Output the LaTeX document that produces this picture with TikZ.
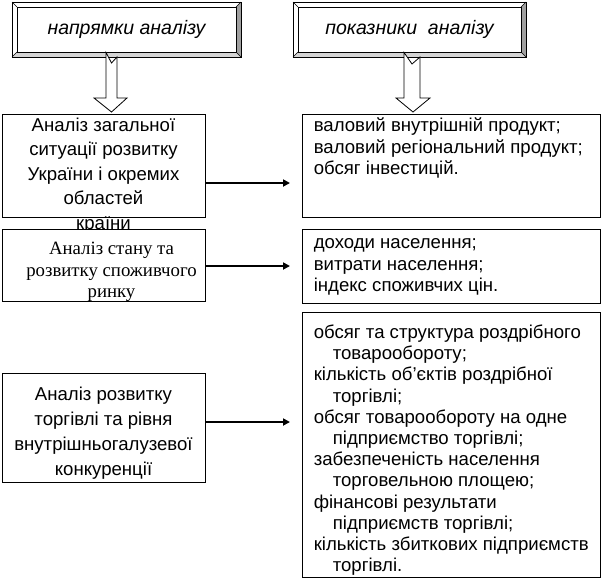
\documentclass[tikz,border=0pt]{standalone}
\usepackage{fontspec}
\setmainfont{Liberation Sans}
\newfontfamily\timesfont{Liberation Serif}
\usetikzlibrary{arrows.meta, positioning, calc}
\definecolor{bevelgray}{HTML}{A0A0A0}
\definecolor{bevellight}{HTML}{D4D4D4}

\begin{document}
\begin{tikzpicture}[x=1pt, y=-1pt,
  box/.style={draw, thick, fill=white, inner sep=0pt},
  arr/.style={-{Triangle[length=7pt,width=7pt]}, line width=2.8pt},
  hollow/.style={draw, thick, fill=white, line join=miter}]
  \useasboundingbox (0,0) rectangle (603,579);
  % Header frames (bevelled)
  \foreach \nm/\xa/\xb in {hl/12/241, hr/293/526} {
    \fill[bevellight] (\xa,57) -- (\xa+5,52) -- (\xb-5,52) -- (\xb,57) -- cycle;
    \fill[bevelgray] (\xb,2) -- (\xb-5,7) -- (\xb-5,52) -- (\xb,57) -- cycle;
    \draw[thick] (\xa,2) rectangle (\xb,57);
    \draw (\xa,2) -- (\xa+5,7) (\xb,2) -- (\xb-5,7)
          (\xa,57) -- (\xa+5,52) (\xb,57) -- (\xb-5,52);
    \node[box, minimum width=\xb-\xa-10, minimum height=45] (\nm)
          at ({(\xa+\xb)/2},29.5) {};
  }
  \node[font=\fontsize{19.5}{20}\selectfont\itshape] (hlt) at (hl) {напрямки аналізу};
  \node[font=\fontsize{19.5}{20}\selectfont\itshape] (hrt) at (hr) {показники\ \ аналізу};

  % Left column
  \node[box, minimum width=203, minimum height=103] (a1) at (103.5,165.5) {};
  \node[anchor=north, align=center, inner sep=0pt,
        font=\fontsize{18.6}{24.5}\selectfont] (a1t) at ([yshift=-4]a1.north)
        {Аналіз загальної\\ситуації розвитку\\України і окремих\\областей\\країни};
  \node[box, minimum width=203, minimum height=72] (a2) at (103.5,265) {};
  \node[align=center, inner sep=0pt,
        font=\timesfont\fontsize{18.8}{21.5}\selectfont] (a2t) at ([shift={(8,7)}]a2.center)
        {Аналіз стану та\\розвитку споживчого\\ринку};
  \node[box, minimum width=203, minimum height=109] (a3) at (103.5,427.5) {};
  \node[align=center, inner sep=0pt,
        font=\fontsize{18.6}{25}\selectfont] (a3t) at ([shift={(0,6)}]a3.center)
        {Аналіз розвитку\\торгівлі та рівня\\внутрішньогалузевої\\конкуренції};

  % Right column
  \node[box, minimum width=298, minimum height=103] (b1) at (451,165.5) {};
  \node[box, minimum width=298, minimum height=74] (b2) at (451,266) {};
  \node[box, minimum width=298, minimum height=265] (b3) at (451,444.5) {};
  \node[anchor=north west, align=left, inner sep=0pt,
        font=\fontsize{18.6}{21.5}\selectfont] (b1t) at ([shift={(12,4)}]b1.north west)
        {валовий внутрішній продукт;\\валовий регіональний продукт;\\обсяг інвестицій.};
  \node[anchor=north west, align=left, inner sep=0pt,
        font=\fontsize{18.6}{21.5}\selectfont] (b2t) at ([shift={(12,10)}]b2.north west)
        {доходи населення;\\витрати населення;\\індекс споживчих цін.};
  \node[anchor=north west, align=left, inner sep=0pt,
        font=\fontsize{18.6}{21.2}\selectfont] (b3t) at ([shift={(12,13)}]b3.north west)
        {обсяг та структура роздрібного\\\hspace*{19pt}товарообороту;\\
         кількість об’єктів роздрібної\\\hspace*{19pt}торгівлі;\\
         обсяг товарообороту на одне\\\hspace*{19pt}підприємство торгівлі;\\
         забезпеченість населення\\\hspace*{19pt}торговельною площею;\\
         фінансові результати\\\hspace*{19pt}підприємств торгівлі;\\
         кількість збиткових підприємств\\\hspace*{19pt}торгівлі.};

  % Hollow arrows
  \draw[hollow] (hl.south -| 106,0) -- (111.5,63) -- (117,57) -- (117,98) -- (127,98)
     -- (111.5,112) -- (94,98) -- (106,98) -- cycle;
  \draw[hollow] (hr.south -| 404,0) -- (412,64) -- (420,57) -- (420,98) -- (430,98)
     -- (413,112) -- (396,98) -- (404,98) -- cycle;

  % Arrows
  \coordinate (e1) at (290,183);
  \coordinate (e2) at (290,266);
  \coordinate (e3) at (290,422);
  \draw[arr] (a1.east |- e1) -- (e1);
  \draw[arr] (a2.east |- e2) -- (e2);
  \draw[arr] (a3.east |- e3) -- (e3);
\end{tikzpicture}
\end{document}
